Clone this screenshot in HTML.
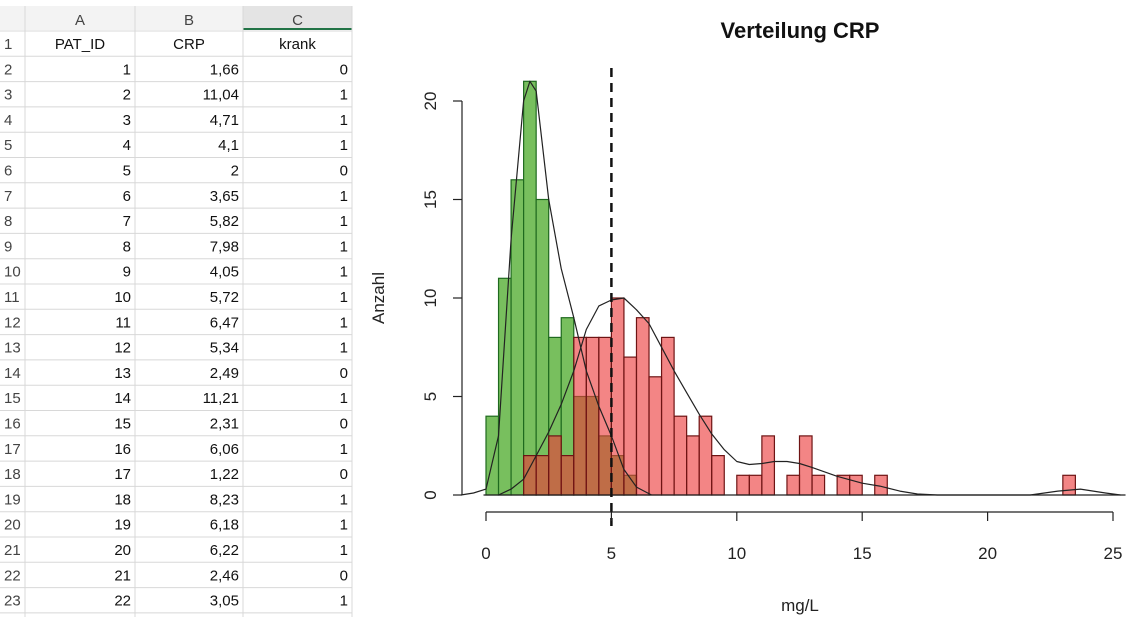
<!DOCTYPE html>
<html><head><meta charset="utf-8"><style>
body{margin:0;background:#fff;}
svg{display:block;font-family:"Liberation Sans",sans-serif;}
</style></head><body>
<svg id="root" width="1140" height="617" viewBox="0 0 1140 617">
<g id="sheet"></g>
<g id="chart"></g>
</svg>
<script>
// ---------- spreadsheet data ----------
const patIds=[1,2,3,4,5,6,7,8,9,10,11,12,13,14,15,16,17,18,19,20,21,22];
const crpVals=["1,66","11,04","4,71","4,1","2","3,65","5,82","7,98","4,05","5,72","6,47","5,34","2,49","11,21","2,31","6,06","1,22","8,23","6,18","6,22","2,46","3,05"];
const krankVals=[0,1,1,1,0,1,1,1,1,1,1,1,0,1,0,1,0,1,1,1,0,1];

// ---------- chart data ----------
const binWidth=0.5;
const greenStart=0;
const greenCounts=[4,11,16,21,15,8,9,5,5,3,2,1];
const redStart=1.5;
const redCounts=[2,2,3,2,8,8,8,10,7,9,6,8,4,3,4,2,0,1,1,3,0,1,3,1,0,1,1,0,1,0,0,0,0,0,0,0,0,0,0,0,0,0,0,1];
const greenCurveX=[-1,-0.5,0,0.5,1,1.5,1.75,2,2.5,3,3.5,4,4.5,5,5.5,6,6.6];
const greenCurveY=[0,0.1,0.3,3,13,20,21,20.5,15,11.5,9,6.3,4.5,3,1.3,0.4,0];
const redCurveX=[0.5,1,1.5,2,2.5,3,3.5,4,4.5,5,5.5,6,6.5,7,7.5,8,8.5,9,9.5,10,10.5,11,11.5,12,12.5,13,14,15,15.7,16.5,17.2,18,21,21.7,22.8,23.7,24.7,25.3];
const redCurveY=[0,0.3,0.8,2,3.2,4.6,6.3,8.4,9.6,9.9,10,9.4,8.7,7.5,6.3,5.2,4.1,3.1,2.3,1.7,1.55,1.6,1.7,1.7,1.6,1.4,0.95,0.6,0.45,0.2,0.05,0,0,0,0.2,0.3,0.1,0];
const xTicks=[0,5,10,15,20,25];
const yTicks=[0,5,10,15,20];
const cutoff=5;

const NS="http://www.w3.org/2000/svg";
function mk(parent,tag,attrs,text){const e=document.createElementNS(NS,tag);for(const k in attrs)e.setAttribute(k,attrs[k]);if(text!==undefined)e.textContent=text;parent.appendChild(e);return e;}

// ---------- spreadsheet ----------
const sh=document.getElementById('sheet');
const colX=[0,25,135,243,352];
mk(sh,'rect',{x:0,y:6,width:352,height:24,fill:'#f3f3f3'});
mk(sh,'rect',{x:243,y:6,width:109,height:24,fill:'#e4e4e4'});
mk(sh,'line',{x1:243,y1:29,x2:352,y2:29,stroke:'#217346','stroke-width':2});
const hdr=['A','B','C'];
for(let i=0;i<3;i++){const t=mk(sh,'text',{x:(colX[i+1]+colX[i+2])/2,y:25,'text-anchor':'middle','font-size':15,fill:'#444'},hdr[i]);

}
const rowTop=i=>31+i*25.3;
for(let r=0;r<=23;r++){mk(sh,'line',{x1:0,y1:rowTop(r),x2:352,y2:rowTop(r),stroke:'#d8d8d8','stroke-width':1});}
for(const x of colX.slice(1)){mk(sh,'line',{x1:x,y1:6,x2:x,y2:617,stroke:'#d8d8d8','stroke-width':1});}
for(let r=0;r<23;r++){
  const cy=rowTop(r)+18;
  const rn=mk(sh,'text',{x:4,y:cy,'font-size':15,fill:'#444'},String(r+1));
  
  
  if(r===0){
    const h=['PAT_ID','CRP','krank'];
    for(let c=0;c<3;c++){const t=mk(sh,'text',{x:(colX[c+1]+colX[c+2])/2,y:cy,'text-anchor':'middle','font-size':15,fill:'#111'},h[c]);
    
    }
  } else {
    const vals=[patIds[r-1],crpVals[r-1],krankVals[r-1]];
    for(let c=0;c<3;c++){const t=mk(sh,'text',{x:colX[c+2]-4,y:cy,'text-anchor':'end','font-size':15,fill:'#111'},String(vals[c]));
    
    }
  }
}

// ---------- chart ----------
const ch=document.getElementById('chart');
const X=v=>486+v*25.08;
const Y=v=>495-v*19.7;
function bars(start,counts,fill,stroke,name){
  counts.forEach((c,i)=>{if(c<=0)return;const x0=X(start+i*binWidth),x1=X(start+(i+1)*binWidth);
    const r=mk(ch,'rect',{x:x0,y:Y(c),width:x1-x0,height:Y(0)-Y(c),fill:fill,stroke:stroke,'stroke-width':1.2});
    
    });
}
bars(greenStart,greenCounts,'#78bf5e','#1f6a1f','bar-healthy');
bars(redStart,redCounts,'rgba(236,58,58,0.62)','#6e1414','bar-sick');
const bl=mk(ch,'line',{x1:X(-0.1),y1:Y(0),x2:X(25.5),y2:Y(0),stroke:'#222','stroke-width':1.2});


function curve(xs,ys,name){let d='';xs.forEach((x,i)=>{d+=(i?'L':'M')+X(x).toFixed(1)+','+Y(ys[i]).toFixed(1);});
  const p=mk(ch,'path',{d:d,fill:'none',stroke:'#222','stroke-width':1.2,'stroke-linejoin':'round'});
  
  }
curve(greenCurveX,greenCurveY,'density-healthy');
curve(redCurveX,redCurveY,'density-sick');
const cl=mk(ch,'line',{x1:X(cutoff),y1:68,x2:X(cutoff),y2:526,stroke:'#111','stroke-width':2.5,'stroke-dasharray':'9,6'});


const ya=mk(ch,'line',{x1:462,y1:Y(yTicks[0]),x2:462,y2:Y(yTicks[yTicks.length-1]),stroke:'#222','stroke-width':1.2});


yTicks.forEach(t=>{mk(ch,'line',{x1:453,y1:Y(t),x2:462,y2:Y(t),stroke:'#222','stroke-width':1.2});
  const l=mk(ch,'text',{x:0,y:0,transform:`translate(436,${Y(t)}) rotate(-90)`,'text-anchor':'middle','font-size':17,fill:'#222'},String(t));
  
  });
const xa=mk(ch,'line',{x1:X(xTicks[0]),y1:512,x2:X(xTicks[xTicks.length-1]),y2:512,stroke:'#222','stroke-width':1.2});


xTicks.forEach(t=>{mk(ch,'line',{x1:X(t),y1:512,x2:X(t),y2:521,stroke:'#222','stroke-width':1.2});
  const l=mk(ch,'text',{x:X(t),y:559,'text-anchor':'middle','font-size':17,fill:'#222'},String(t));
  
  });
const tt=mk(ch,'text',{x:800,y:38,'text-anchor':'middle','font-size':22,'font-weight':'bold',fill:'#111'},'Verteilung CRP');


const xt=mk(ch,'text',{x:800,y:611,'text-anchor':'middle','font-size':17,fill:'#222'},'mg/L');


const yt=mk(ch,'text',{x:0,y:0,transform:'translate(384,298) rotate(-90)','text-anchor':'middle','font-size':17,fill:'#222'},'Anzahl');


</script>
</body></html>
